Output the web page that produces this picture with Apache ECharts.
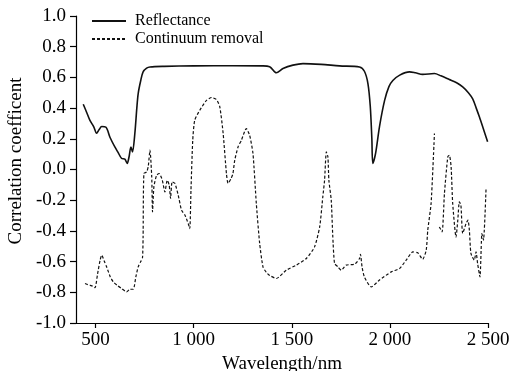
<!DOCTYPE html>
<html>
<head>
<meta charset="utf-8">
<script src="https://cdn.jsdelivr.net/npm/echarts@6/dist/echarts.min.js"></script>
<style>
html,body{margin:0;padding:0;background:#fff;}
#chart{width:512px;height:371px;}
</style>
</head>
<body>
<div id="chart"></div>
<script>
// Reflectance series
var reflWl = [437,455,471,490,505,518,531,553,573,598,615,632,649,661,670,680,688,700,710,717,730,742,760,777,850,1000,1200,1350,1387,1421,1455,1506,1557,1650,1743,1845,1870,1888,1900,1908,1913,1927,1947,1973,1995,2015,2050,2100,2130,2167,2227,2260,2303,2340,2371,2400,2422,2440,2456,2475,2498];
var reflVal = [0.425,0.37,0.32,0.28,0.236,0.26,0.28,0.275,0.21,0.147,0.11,0.073,0.067,0.04,0.08,0.147,0.115,0.236,0.40,0.495,0.58,0.636,0.66,0.668,0.672,0.675,0.676,0.675,0.67,0.63,0.658,0.68,0.69,0.685,0.675,0.668,0.64,0.56,0.41,0.2,0.04,0.105,0.28,0.45,0.54,0.58,0.615,0.636,0.63,0.62,0.625,0.61,0.586,0.565,0.538,0.5,0.46,0.4,0.343,0.27,0.18];
// Continuum removal series (null = gap in the line)
var crWl = [446,460,471,485,497,510,523,531,545,556,575,590,610,632,658,675,692,705,717,730,739,742,746,760,768,777,786,790,797,811,824,840,853,865,875,882,890,904,921,938,955,972,980,986,995,1005,1031,1065,1091,1116,1133,1150,1167,1175,1190,1200,1209,1226,1243,1268,1285,1302,1319,1336,1353,1370,1387,1421,1472,1523,1574,1616,1642,1658,1667,1676,1684,1689,1701,1709,1718,1735,1752,1777,1820,1845,1850,1858,1870,1905,1947,2007,2049,2083,2117,2142,2167,2185,2193,2210,2227,2240,2252,2266,2278,2295,2303,2312,2320,2337,2346,2354,2362,2371,2388,2398,2405,2413,2430,2439,2447,2459,2469,2477,2490];
var crVal = [-0.743,-0.75,-0.754,-0.76,-0.77,-0.68,-0.59,-0.558,-0.6,-0.634,-0.7,-0.732,-0.755,-0.775,-0.797,-0.78,-0.78,-0.7,-0.634,-0.6,-0.573,-0.44,-0.026,-0.016,0.017,0.126,-0.048,-0.276,-0.113,-0.037,-0.026,-0.07,-0.146,-0.07,-0.102,-0.189,-0.08,-0.09,-0.167,-0.265,-0.297,-0.352,-0.385,-0.135,0.19,0.32,0.386,0.45,0.469,0.456,0.408,0.235,-0.03,-0.09,-0.06,-0.026,0.06,0.147,0.19,0.267,0.223,0.104,-0.22,-0.48,-0.634,-0.67,-0.69,-0.71,-0.656,-0.623,-0.58,-0.504,-0.374,-0.178,-0.07,0.115,0.082,-0.07,-0.2,-0.44,-0.612,-0.634,-0.656,-0.623,-0.617,-0.58,-0.552,-0.634,-0.70,-0.765,-0.72,-0.667,-0.645,-0.59,-0.537,-0.543,-0.585,-0.526,-0.395,-0.22,0.235,null,-0.374,-0.406,-0.156,0.082,0.093,0.017,-0.22,-0.44,-0.33,-0.21,-0.233,-0.417,-0.352,-0.33,-0.395,-0.547,-0.59,-0.537,-0.612,-0.70,-0.417,-0.46,-0.124];
var xTicks = [500,1000,1500,2000,2500];
var seriesNames = ['Reflectance','Continuum removal'];

function zip(a,b){var o=[];for(var i=0;i<a.length;i++){o.push([a[i], b[i]===null?'-':b[i]]);}return o;}
function fmtX(v){ if(v>=1000){var t=Math.floor(v/1000);var r=String(v%1000);while(r.length<3)r='0'+r;return t+' '+r;} return String(v);}

var FONT = '"Liberation Serif","Times New Roman",serif';
var chart = echarts.init(document.getElementById('chart'), null, {renderer:'canvas'});
chart.setOption({
  backgroundColor:'#fff',
  animation:false,
  grid:{left:76,right:24,top:16,bottom:48,containLabel:false,outerBoundsMode:'none'},
  legend:{
    orient:'vertical', left:86, top:8, itemWidth:34, itemHeight:14, itemGap:2,
    itemStyle:{opacity:0,borderWidth:0},
    textStyle:{fontFamily:FONT,fontSize:16,color:'#000',padding:[0,0,0,4]},
    data:seriesNames
  },
  xAxis:{
    type:'value', min:400, max:2500,
    name:'Wavelength/nm', nameLocation:'middle', nameGap:32,
    nameTextStyle:{fontFamily:FONT,fontSize:19,color:'#000'},
    axisLine:{show:true,onZero:false,lineStyle:{color:'#000',width:1.2}},
    axisTick:{show:true,inside:false,length:5,customValues:xTicks,lineStyle:{color:'#000',width:1.2}},
    axisLabel:{show:true,margin:8,customValues:xTicks,formatter:fmtX,fontFamily:FONT,fontSize:19,color:'#000'},
    splitLine:{show:false}
  },
  yAxis:{
    type:'value', min:-1, max:1, interval:0.2,
    name:'Correlation coefficent', nameLocation:'middle', nameGap:50, nameRotate:90,
    nameTextStyle:{fontFamily:FONT,fontSize:19,color:'#000',padding:[0,0,0,17]},
    axisLine:{show:true,lineStyle:{color:'#000',width:1.2}},
    axisTick:{show:true,inside:false,length:6,lineStyle:{color:'#000',width:1.2}},
    axisLabel:{margin:10,formatter:function(v){return v.toFixed(1);},fontFamily:FONT,fontSize:19,color:'#000'},
    splitLine:{show:false}
  },
  series:[
    {name:seriesNames[0],type:'line',data:zip(reflWl,reflVal),symbol:'none',smooth:0.3,
     lineStyle:{color:'#111',width:1.6,type:'solid'},itemStyle:{color:'#111'}},
    {name:seriesNames[1],type:'line',data:zip(crWl,crVal),symbol:'none',smooth:0.2,connectNulls:false,
     lineStyle:{color:'#111',width:1.2,type:[3,2]},itemStyle:{color:'#111'}}
  ]
});
</script>
</body>
</html>
